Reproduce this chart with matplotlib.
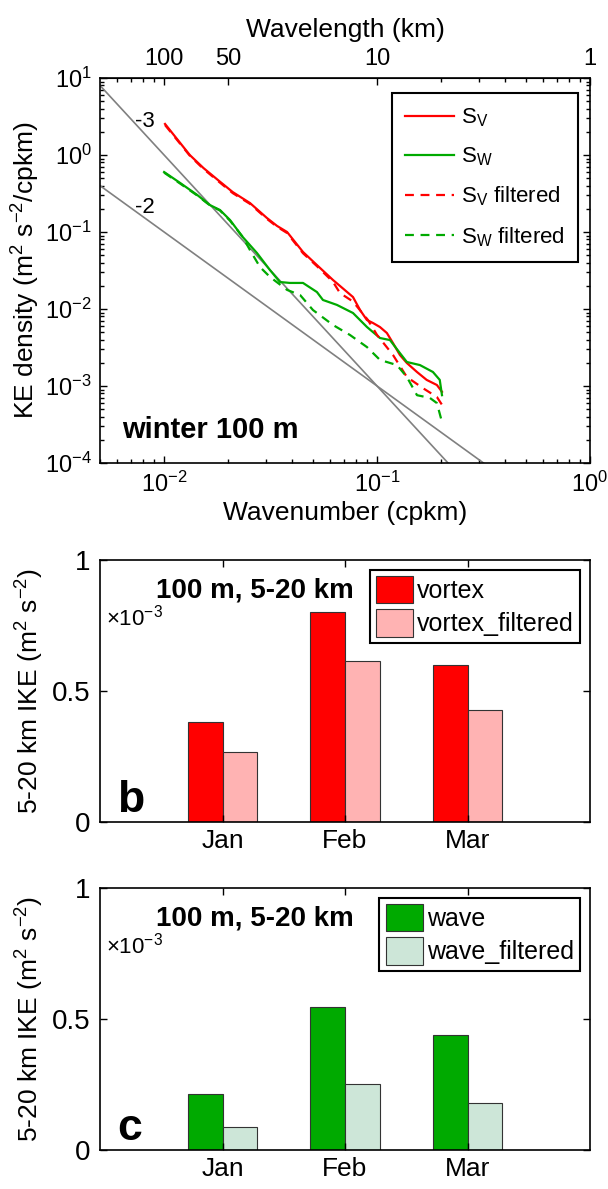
import matplotlib
matplotlib.use("Agg")
import matplotlib.pyplot as plt
from matplotlib.ticker import LogLocator, FixedLocator, NullFormatter, FixedFormatter
import numpy as np

plt.rcParams['font.family'] = ['Liberation Sans', 'DejaVu Sans']
plt.rcParams['mathtext.fontset'] = 'custom'
plt.rcParams['mathtext.rm'] = 'Liberation Sans'
plt.rcParams['mathtext.it'] = 'Liberation Sans:italic'
plt.rcParams['mathtext.bf'] = 'Liberation Sans:bold'
plt.rcParams['mathtext.default'] = 'regular'

# ---------------- data: spectra (panel a) ----------------
sv_k = [0.0101, 0.0132, 0.0153, 0.0179, 0.0210, 0.0253, 0.0304, 0.0339, 0.0378, 0.0449,
        0.0522, 0.0621, 0.0771, 0.0832, 0.0896, 0.0957, 0.1032, 0.1112, 0.1188, 0.128,
        0.138, 0.154, 0.171, 0.191, 0.2018]
sv_e = [2.53, 1.0, 0.678, 0.473, 0.330, 0.238, 0.152, 0.120, 0.100, 0.055,
        0.0372, 0.0238, 0.0143, 0.0097, 0.0072, 0.00658, 0.00583, 0.00488, 0.00361, 0.00253,
        0.00199, 0.00152, 0.00120, 0.00103, 0.00084]

sw_k = [0.0100, 0.0119, 0.0143, 0.0164, 0.0183, 0.0204, 0.0234, 0.0273, 0.0314, 0.0350,
        0.0390, 0.0449, 0.0522, 0.0557, 0.0648, 0.0771, 0.0897, 0.1032, 0.115, 0.128,
        0.138, 0.159, 0.183, 0.197, 0.2018]
sw_e = [0.601, 0.433, 0.303, 0.224, 0.193, 0.143, 0.0861, 0.0533, 0.0321, 0.0224,
        0.0218, 0.0218, 0.0166, 0.0131, 0.0113, 0.00887, 0.00583, 0.0042, 0.00395, 0.00268,
        0.00205, 0.00187, 0.00152, 0.00120, 0.00076]

svf_k = [0.0101, 0.0132, 0.0153, 0.0179, 0.0210, 0.0253, 0.0304, 0.0339, 0.0378, 0.0449,
         0.0522, 0.0621, 0.067, 0.0771, 0.0906, 0.100, 0.1188, 0.138, 0.164, 0.191, 0.2018]
svf_e = [2.45, 0.98, 0.66, 0.46, 0.320, 0.232, 0.148, 0.117, 0.097, 0.053,
         0.036, 0.0225, 0.0161, 0.0125, 0.0072, 0.0046, 0.00253, 0.00131, 0.00094, 0.00072, 0.00057]

swf_k = [0.0100, 0.0119, 0.0143, 0.0164, 0.0183, 0.0204, 0.0234, 0.0253, 0.0282, 0.0314,
         0.0378, 0.0435, 0.050, 0.0621, 0.0746, 0.0897, 0.1032, 0.124, 0.138, 0.154,
         0.177, 0.191, 0.2018]
swf_e = [0.59, 0.425, 0.298, 0.222, 0.190, 0.140, 0.0861, 0.0583, 0.0351, 0.0261,
         0.0177, 0.0152, 0.0097, 0.0062, 0.0046, 0.0032, 0.00218, 0.00187, 0.00131, 0.00076,
         0.0007, 0.0006, 0.00034]

# reference slope lines (end points)
ref3_k = [0.005, 0.2154]
ref3_e = [8.0, 1e-4]
ref2_k = [0.005, 0.3162]
ref2_e = [0.4, 1e-4]

# top axis: wavelength labels (km)
wl_labels = ['100', '50', '10', '1']
wl_values = [100, 50, 10, 1]

# ---------------- data: bars (panels b, c) ----------------
months = ['Jan', 'Feb', 'Mar']
vortex = [0.38, 0.80, 0.60]
vortex_filtered = [0.268, 0.615, 0.426]
wave = [0.212, 0.547, 0.438]
wave_filtered = [0.087, 0.251, 0.181]

W, H = 608, 1189
fig = plt.figure(figsize=(W / 100, H / 100), dpi=100)

L, R = 100, 590
def ax_rect(top, bottom):
    return [L / W, (H - bottom) / H, (R - L) / W, (bottom - top) / H]

TICK = 17
LAB = 19

# ---------------- panel a ----------------
ax = fig.add_axes(ax_rect(78, 463))
ax.set_xscale('log')
ax.set_yscale('log')
ax.plot(ref3_k, ref3_e, color='#808080', lw=1.2)
ax.plot(ref2_k, ref2_e, color='#808080', lw=1.2)
ax.plot(sv_k, sv_e, color='#FF0000', lw=1.6, label='$S_V$')
ax.plot(sw_k, sw_e, color='#00AA00', lw=1.6, label='$S_W$')
ax.plot(svf_k, svf_e, color='#FF0000', lw=1.6, ls=(0, (4, 3)), label='$S_V$ filtered')
ax.plot(swf_k, swf_e, color='#00AA00', lw=1.6, ls=(0, (4, 3)), label='$S_W$ filtered')
ax.set_xlim(0.005, 1)
ax.set_ylim(1e-4, 10)
ax.text(0.0081, 2.7, '-3', fontsize=16, ha='center', va='center')
ax.text(0.0081, 0.205, '-2', fontsize=16, ha='center', va='center')
ax.text(0.045, 0.065, 'winter 100 m', transform=ax.transAxes, fontsize=21,
        fontweight='bold', ha='left', va='baseline')
ax.yaxis.set_major_locator(LogLocator(base=10, numticks=20))
ax.yaxis.set_minor_locator(LogLocator(base=10, subs=np.arange(2, 10), numticks=20))
ax.yaxis.set_minor_formatter(NullFormatter())
ax.xaxis.set_major_locator(LogLocator(base=10, numticks=20))
ax.xaxis.set_minor_locator(LogLocator(base=10, subs=np.arange(2, 10), numticks=20))
ax.xaxis.set_minor_formatter(NullFormatter())
ax.tick_params(which='both', direction='in', top=False, right=True, labelsize=TICK, width=1)
ax.tick_params(which='major', length=5, pad=6)
ax.tick_params(which='minor', length=3)
ax.set_xlabel('Wavenumber (cpkm)', fontsize=LAB, labelpad=3)
ax.set_ylabel('KE density (m$^2$ s$^{-2}$/cpkm)', fontsize=LAB, labelpad=2)
for s in ax.spines.values():
    s.set_linewidth(1.2)
leg = ax.legend(loc='upper right', bbox_to_anchor=(0.976, 0.961), borderaxespad=0,
                fontsize=16, frameon=True, fancybox=False, framealpha=1,
                edgecolor='black', handlelength=2.2, labelspacing=0.75,
                borderpad=0.6, handletextpad=0.3)
leg.get_frame().set_linewidth(1.5)

sec = ax.secondary_xaxis('top')
sec.xaxis.set_major_locator(FixedLocator([1.0 / v for v in wl_values]))
sec.xaxis.set_major_formatter(FixedFormatter(wl_labels))
sec.xaxis.set_minor_locator(FixedLocator([0.006, 0.007, 0.008, 0.009,
                                          0.2, 0.3, 0.4, 0.5, 0.6, 0.7, 0.8, 0.9]))
sec.xaxis.set_minor_formatter(NullFormatter())
sec.tick_params(which='both', direction='in', labelsize=TICK, width=1)
sec.tick_params(which='major', length=5, pad=6)
sec.tick_params(which='minor', length=3)
sec.set_xlabel('Wavelength (km)', fontsize=LAB, labelpad=8)

# ---------------- bar panels ----------------
def bar_panel(top, bottom, v1, v2, c1, c2, n1, n2, letter):
    bx = fig.add_axes(ax_rect(top, bottom))
    x = np.arange(1, len(months) + 1)
    w = 0.285
    bx.bar(x - w / 2, v1, width=w, color=c1, edgecolor='#333333', lw=0.8, label=n1)
    bx.bar(x + w / 2, v2, width=w, color=c2, edgecolor='#333333', lw=0.8, label=n2)
    bx.set_xlim(0, 4)
    bx.set_ylim(0, 1)
    bx.set_xticks(x)
    bx.set_xticklabels(months)
    bx.set_yticks([0, 0.5, 1])
    bx.set_yticklabels(['0', '0.5', '1'])
    bx.tick_params(direction='in', top=True, right=True, labelsize=19, length=5, width=1)
    bx.tick_params(axis='x', pad=5)
    bx.tick_params(axis='y', labelsize=20, pad=7)
    bx.set_ylabel('5-20 km IKE (m$^2$ s$^{-2}$)', fontsize=LAB, labelpad=4)
    for s in bx.spines.values():
        s.set_linewidth(1.2)
    bx.text(0.012, 0.78, r'$\times10^{-3}$', transform=bx.transAxes, fontsize=16,
            ha='left', va='center')
    bx.text(0.316, 0.885, '100 m, 5-20 km', transform=bx.transAxes, fontsize=20,
            fontweight='bold', ha='center', va='center')
    bx.text(0.035, 0.04, letter, transform=bx.transAxes, fontsize=32,
            fontweight='bold', ha='left', va='baseline')
    lg = bx.legend(loc='upper right', bbox_to_anchor=(0.98, 0.963), borderaxespad=0,
                   fontsize=18, frameon=True, fancybox=False, framealpha=1,
                   edgecolor='black', handlelength=1.5, handleheight=1.3,
                   labelspacing=0.25, borderpad=0.25, handletextpad=0.15)
    lg.get_frame().set_linewidth(1.5)
    return bx

bar_panel(560, 822, vortex, vortex_filtered, '#FF0000', '#FFB3B3',
          'vortex', 'vortex_filtered', 'b')
bar_panel(888, 1150, wave, wave_filtered, '#00AA00', '#CDE6D8',
          'wave', 'wave_filtered', 'c')

fig.savefig('out.png', dpi=100)
